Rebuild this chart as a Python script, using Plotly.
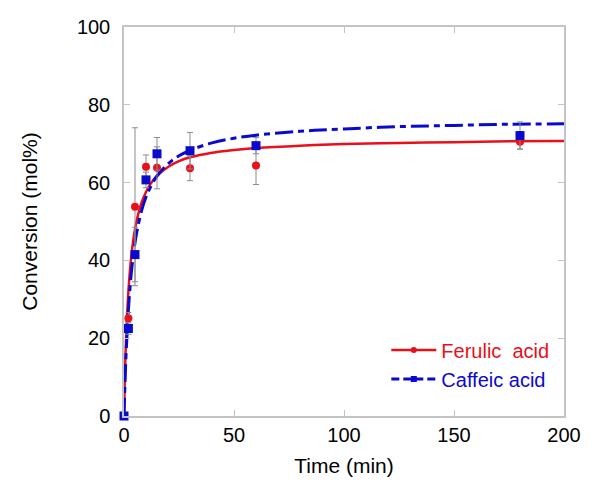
import plotly.graph_objects as go

# Measured data (min, mol%)
time_pts = [0, 2, 5, 10, 15, 30, 60, 180]
ferulic = [0, 25.1, 53.8, 64.1, 63.8, 63.7, 64.4, 70.5]
ferulic_err = [0, 1.5, 20.3, 3.0, 5.4, 3.2, 4.9, 1.9]
caffeic = [0, 22.5, 41.5, 60.7, 67.4, 68.2, 69.5, 72.1]
caffeic_err = [0, 1.5, 7.0, 2.0, 4.2, 4.7, 2.1, 3.5]

# Fitted curves
curve_t = [0, 0.5, 1, 2, 3, 4, 5, 6, 8, 10, 12, 15, 20, 25, 30, 40, 50, 60, 80, 100, 125, 150, 175, 200]
ferulic_fit = [0, 12.0, 20.6, 32.0, 39.3, 44.3, 48.0, 50.8, 54.9, 57.6, 59.6, 61.7, 64.0, 65.5, 66.5,
               67.7, 68.4, 68.9, 69.5, 69.9, 70.2, 70.4, 70.6, 70.7]
caffeic_fit = [0, 9.3, 16.6, 27.3, 34.8, 40.3, 44.5, 47.8, 52.8, 56.3, 58.8, 61.7, 64.8, 66.9, 68.3,
               70.2, 71.4, 72.2, 73.2, 73.8, 74.4, 74.7, 75.0, 75.1]

x_ticks = [0, 50, 100, 150, 200]
y_ticks = [0, 20, 40, 60, 80, 100]

RED = "#e8101a"
BLUE = "#0a0acd"
FONT = "Liberation Sans, Arial, sans-serif"

fig = go.Figure()

fig.add_trace(go.Scatter(x=curve_t, y=ferulic_fit, mode="lines", line=dict(color=RED, width=2.5, shape="spline"),
                         showlegend=False, hoverinfo="skip"))
fig.add_trace(go.Scatter(x=curve_t, y=caffeic_fit, mode="lines",
                         line=dict(color=BLUE, width=3, dash="18px,5px,6px,5px", shape="spline"),
                         showlegend=False, hoverinfo="skip"))
fig.add_trace(go.Scatter(x=time_pts, y=ferulic, mode="markers", cliponaxis=False,
                         marker=dict(color=RED, size=8, symbol="circle"),
                         error_y=dict(type="data", array=ferulic_err, color="#8c8c8c", thickness=1, width=3),
                         showlegend=False))
fig.add_trace(go.Scatter(x=time_pts, y=caffeic, mode="markers", cliponaxis=False,
                         marker=dict(color=BLUE, size=9, symbol="square"),
                         error_y=dict(type="data", array=caffeic_err, color="#8c8c8c", thickness=1, width=3),
                         showlegend=False))

# Legend entries
fig.add_trace(go.Scatter(x=[None], y=[None], mode="lines+markers",
                         line=dict(color=RED, width=2.5), marker=dict(color=RED, size=6, symbol="circle"),
                         name="<span style='color:#e8101a'>Ferulic\u00a0\u00a0acid</span>"))
fig.add_trace(go.Scatter(x=[None], y=[None], mode="lines+markers",
                         line=dict(color=BLUE, width=3, dash="8px,4px,20px,4px"),
                         marker=dict(color=BLUE, size=6, symbol="square"),
                         name="<span style='color:#0a0acd'>Caffeic acid</span>"))

axis_common = dict(showline=True, linecolor="#c4c4c4", linewidth=1.5, mirror="ticks",
                   ticks="inside", ticklen=6, tickcolor="#c4c4c4", tickwidth=1.2,
                   showgrid=False, zeroline=False,
                   tickfont=dict(family=FONT, size=20, color="black"))

fig.update_xaxes(range=[0, 200], tickvals=x_ticks, ticktext=[str(v) for v in x_ticks],
                 title=dict(text="Time (min)", font=dict(family=FONT, size=21, color="black"), standoff=14),
                 ticklabelstandoff=0, **axis_common)
fig.update_yaxes(range=[0, 100], tickvals=y_ticks, ticktext=[str(v) for v in y_ticks],
                 title=dict(text="Conversion (mol%)", font=dict(family=FONT, size=21, color="black"), standoff=34),
                 ticklabelstandoff=8, **axis_common)

fig.update_layout(
    width=597, height=495,
    margin=dict(l=124, r=33, t=27, b=79, autoexpand=False),
    paper_bgcolor="white", plot_bgcolor="white",
    font=dict(family=FONT, size=20, color="black"),
    legend=dict(x=0.978, y=0.045, xanchor="right", yanchor="bottom", bgcolor="rgba(0,0,0,0)",
                font=dict(family=FONT, size=20), itemwidth=45, tracegroupgap=0),
)

fig.write_html("out.html")
